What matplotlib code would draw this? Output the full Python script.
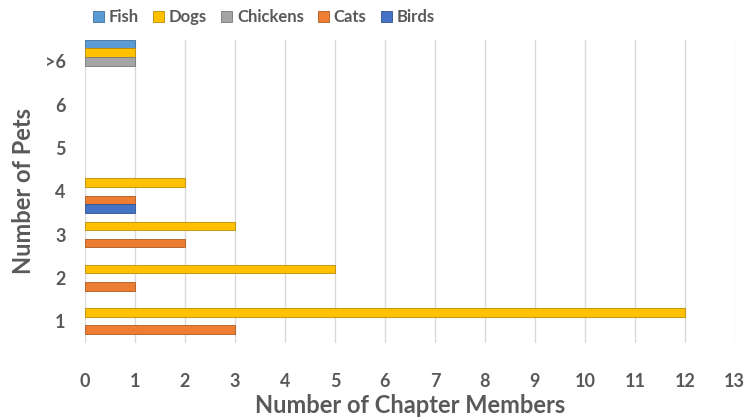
import numpy as np
import matplotlib.pyplot as plt

plt.rcParams['font.family'] = ['Lato', 'DejaVu Sans']
plt.rcParams['font.weight'] = 'bold'

# data
categories = ['1', '2', '3', '4', '5', '6', '>6']
series = ['Fish', 'Dogs', 'Chickens', 'Cats', 'Birds']
fish = [0, 0, 0, 0, 0, 0, 1]
dogs = [12, 5, 3, 2, 0, 0, 1]
chickens = [0, 0, 0, 0, 0, 0, 1]
cats = [3, 1, 2, 1, 0, 0, 0]
birds = [0, 0, 0, 1, 0, 0, 0]
colors = ['#5B9BD5', '#FFC000', '#A5A5A5', '#ED7D31', '#4472C4']
edges = ['#41719C', '#BC8C00', '#787878', '#AE5A21', '#2F528F']

values = [fish, dogs, chickens, cats, birds]
grey = '#595959'

fig, ax = plt.subplots(figsize=(7.46, 4.17), dpi=100)
fig.subplots_adjust(left=0.114, right=0.985, top=0.905, bottom=0.178)

y = np.arange(len(categories))
h = 0.2
# Fish on top of each group, Birds at the bottom
offsets = [2 * h, h, 0, -h, -2 * h]
for name, vals, off, c, ec in zip(series, values, offsets, colors, edges):
    vals = np.array(vals, dtype=float)
    keep = vals > 0
    ax.barh(y[keep] + off, vals[keep], height=h, color=c, edgecolor=ec,
            linewidth=0.6, label=name, zorder=3)

ax.set_xlim(0, 13)
ax.set_ylim(-0.5, 6.5)
ax.set_xticks(range(14))
ax.set_yticks(y)
ax.set_yticklabels(categories)
ax.grid(axis='x', color='#D9D9D9', linewidth=1, zorder=0)
for s in ax.spines.values():
    s.set_visible(False)
ax.tick_params(axis='x', length=0, pad=22, labelsize=13, labelcolor=grey)
ax.tick_params(axis='y', length=0, pad=14, labelsize=13, labelcolor=grey)

ax.set_xlabel('Number of Chapter Members', fontsize=17, color=grey,
              fontweight='bold', labelpad=3)
ax.set_ylabel('Number of Pets', fontsize=17, color=grey, fontweight='bold',
              labelpad=7)

ax.legend(loc='upper center', bbox_to_anchor=(0.275, 1.15), ncol=5,
          frameon=False, fontsize=12, labelcolor=grey, handlelength=0.65,
          handleheight=0.65, handletextpad=0.3, columnspacing=0.85)

plt.savefig('out.png', dpi=100)
